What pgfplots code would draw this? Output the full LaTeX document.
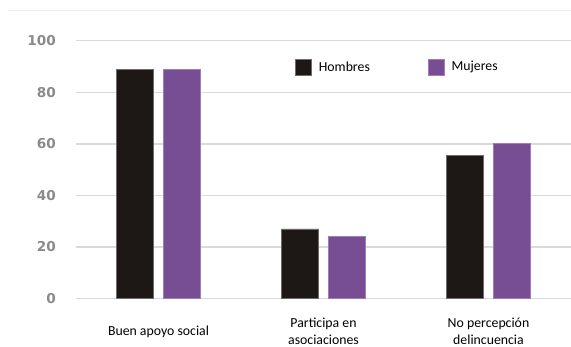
\documentclass[border=0pt]{standalone}
\usepackage{fontspec}
\setmainfont{Carlito}
\newfontfamily\tickfont{DejaVu Sans}
\usepackage{pgfplots}
\pgfplotsset{compat=1.18}

\definecolor{hombres}{HTML}{1D1815}
\definecolor{hombresedge}{HTML}{6F6B69}
\definecolor{mujeres}{HTML}{774E93}
\definecolor{mujeresedge}{HTML}{A07CBA}
\definecolor{gridgray}{HTML}{DADADA}
\definecolor{ticktext}{HTML}{8A8A8A}

\begin{document}
\begin{tikzpicture}[x=1pt,y=1pt]
\useasboundingbox (0,0) rectangle (571,347);
% faint rule across the top
\draw[color=black!7, line width=1pt] (8,336) -- (571,336);
\begin{axis}[
  at={(76pt,48.5pt)}, anchor=south west,
  scale only axis,
  width=495pt, height=257.8pt,
  xmin=-0.5, xmax=2.5,
  ymin=0, ymax=100,
  ytick={0,20,40,60,80,100},
  xtick={0,1,2},
  xticklabels={Buen apoyo social, Participa en\\asociaciones, No percepción\\delincuencia},
  axis line style={draw=none},
  major tick length=0pt,
  ymajorgrids,
  grid style={color=gridgray, line width=1.4pt},
  /pgf/number format/assume math mode=true,
  yticklabel style={font=\tickfont\bfseries\fontsize{13.6}{13.6}\selectfont, text=ticktext,
    anchor=east, inner sep=0pt, xshift=-20pt},
  xticklabel style={font=\fontsize{13.8}{17}\selectfont, align=center,
    anchor=center, inner sep=0pt, yshift=-33pt},
  ybar, bar width=37pt,
  clip=false,
  legend columns=2,
  legend style={draw=none, fill=none, inner sep=0pt,
    at={(axis cs:0.827,89.8)}, anchor=west,
    font=\fontsize{13.8}{16}\selectfont,
    nodes={inner sep=0pt},
    /tikz/every odd column/.append style={column sep=7pt},
    /tikz/every even column/.append style={column sep=58pt}},
  legend image code/.code={\draw[#1] (0pt,-8pt) rectangle (16pt,8pt);},
]
\addplot[fill=hombres, draw=hombresedge, line width=0.7pt, bar shift=-23.5pt]
  coordinates {(0,89) (1,27) (2,55.5)};
\addplot[fill=mujeres, draw=mujeresedge, line width=0.7pt, bar shift=23.5pt]
  coordinates {(0,89) (1,24) (2,60)};
\legend{Hombres, Mujeres}
\end{axis}
\end{tikzpicture}
\end{document}
